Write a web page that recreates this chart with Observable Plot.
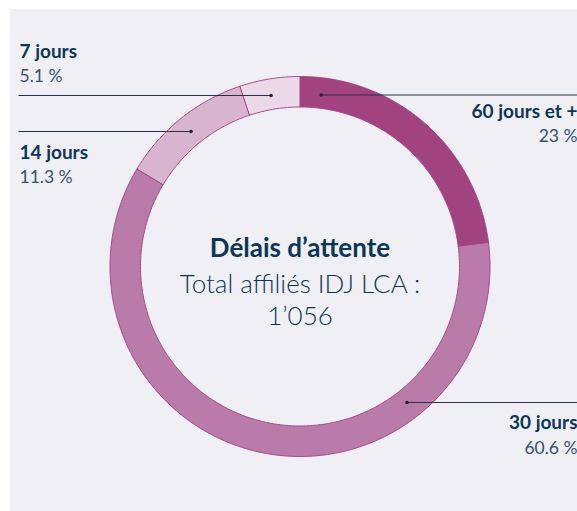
<!DOCTYPE html>
<html>
<head>
<meta charset="utf-8">
<script src="https://cdn.jsdelivr.net/npm/d3@7"></script>
<script src="https://cdn.jsdelivr.net/npm/@observablehq/plot@0.6"></script>
<style>
  html, body { margin: 0; padding: 0; background: #ffffff; }
  #wrap { position: relative; width: 577px; height: 511px; overflow: hidden; }
  #panel { position: absolute; left: 10px; top: 9px; right: 0; bottom: 0; background: #f0eff5; }
  #chart { position: absolute; left: 0; top: 0; }
  svg { font-family: Lato, "Open Sans", sans-serif; }
</style>
</head>
<body>
<div id="wrap"><div id="panel"></div><div id="chart"></div></div>
<script>
// ---- data ----
const categories = ["60 jours et +", "30 jours", "14 jours", "7 jours"];
const shares = [23, 60.6, 11.3, 5.1];
const shareLabels = ["23 %", "60.6 %", "11.3 %", "5.1 %"];
const titleLines = ["Délais d’attente", "Total affiliés IDJ LCA :", "1’056"];

// ---- styles / layout ----
const fills = ["#a1437f", "#b97ba7", "#d8b4cf", "#ebd9e8"];
const edge = "#a4478a";
const W = 577, H = 511;
const cx = 299.5, cy = 266, rOut = 190, rIn = 159.5;
// leader dot placement (angle clockwise from top, radius), label side and text baselines
const leaders = [
  {angle: 7.0,   r: 172.8, side: "right", nameY: 117, pctY: 141},
  {angle: 141.8, r: 173,   side: "right", nameY: 428, pctY: 453},
  {angle: -38.9, r: 173.5, side: "left",  nameY: 158, pctY: 182},
  {angle: -9.6,  r: 173.5, side: "left",  nameY: 57,  pctY: 81}
];
const leftX = 18, rightX = 577, leftText = 19, rightText = 577;

const rad = d => d * Math.PI / 180;
const px = (a, r) => cx + r * Math.sin(rad(a));
const py = (a, r) => cy - r * Math.cos(rad(a));

// slice outlines from the shares
const total = d3.sum(shares);
const slicePts = [];
let acc = 0;
categories.forEach((cat, i) => {
  const a0 = acc / total * 360, a1 = (acc + shares[i]) / total * 360;
  acc += shares[i];
  const n = Math.max(2, Math.ceil((a1 - a0) / 0.5));
  for (let k = 0; k <= n; k++) { const a = a0 + (a1 - a0) * k / n; slicePts.push({cat, x: px(a, rOut), y: py(a, rOut)}); }
  for (let k = n; k >= 0; k--) { const a = a0 + (a1 - a0) * k / n; slicePts.push({cat, x: px(a, rIn), y: py(a, rIn)}); }
});

const dots = leaders.map((l, i) => ({cat: categories[i], x: px(l.angle, l.r), y: py(l.angle, l.r), side: l.side}));
const links = dots.map(d => ({x1: d.side === "left" ? leftX : d.x, x2: d.side === "left" ? d.x : rightX, y: d.y}));
const labels = leaders.map((l, i) => ({
  name: categories[i], pct: shareLabels[i], nameY: l.nameY, pctY: l.pctY,
  x: l.side === "left" ? leftText : rightText, anchor: l.side === "left" ? "start" : "end"
}));
const leftLabels = labels.filter(d => d.anchor === "start");
const rightLabels = labels.filter(d => d.anchor === "end");

const navy = "#0c3656";
const pctColor = "#34526f";

const chart = Plot.plot({
  width: W, height: H,
  margin: 0,
  x: {domain: [0, W], range: [0, W], axis: null},
  y: {domain: [0, H], range: [0, H], axis: null},
  color: {domain: categories, range: fills},
  style: {background: "transparent", overflow: "visible"},
  marks: [
    Plot.line(slicePts, {x: "x", y: "y", z: "cat", fill: "cat", stroke: edge, strokeWidth: 1, curve: "linear-closed"}),
    Plot.link(links, {x1: "x1", x2: "x2", y1: "y", y2: "y", stroke: "#2a3146", strokeWidth: 1.1}),
    Plot.dot(dots, {x: "x", y: "y", r: 1.8, fill: "#1f2638", stroke: null}),
    Plot.text(leftLabels, {x: "x", y: "nameY", text: "name", textAnchor: "start", lineAnchor: "bottom", fontSize: 19, fontWeight: 700, fill: navy}),
    Plot.text(leftLabels, {x: "x", y: "pctY", text: "pct", textAnchor: "start", lineAnchor: "bottom", fontSize: 17.5, fontWeight: 400, fill: pctColor}),
    Plot.text(rightLabels, {x: "x", y: "nameY", text: "name", textAnchor: "end", lineAnchor: "bottom", fontSize: 19, fontWeight: 700, fill: navy}),
    Plot.text(rightLabels, {x: "x", y: "pctY", text: "pct", textAnchor: "end", lineAnchor: "bottom", fontSize: 17.5, fontWeight: 400, fill: pctColor}),
    Plot.text([titleLines[0]], {x: () => cx, y: () => 256, text: d => d, textAnchor: "middle", lineAnchor: "bottom", fontSize: 26, fontWeight: 700, fill: navy}),
    Plot.text([titleLines[1]], {x: () => cx, y: () => 292, text: d => d, textAnchor: "middle", lineAnchor: "bottom", fontSize: 26, fontWeight: 300, fill: navy}),
    Plot.text([titleLines[2]], {x: () => cx, y: () => 324, text: d => d, textAnchor: "middle", lineAnchor: "bottom", fontSize: 26, fontWeight: 300, fill: navy})
  ]
});
document.getElementById("chart").appendChild(chart);
</script>
</body>
</html>
